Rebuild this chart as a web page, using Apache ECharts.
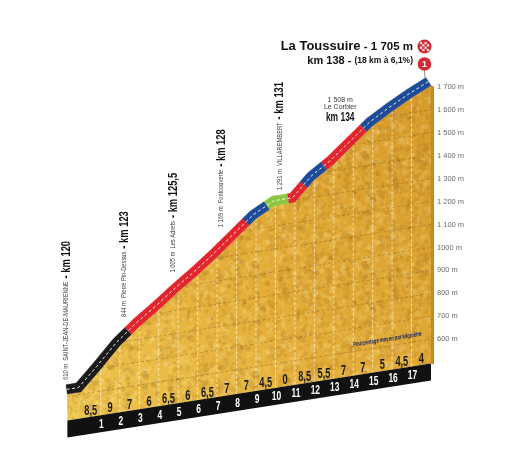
<!DOCTYPE html>
<html>
<head>
<meta charset="utf-8">
<script src="https://cdn.jsdelivr.net/npm/echarts@6/dist/echarts.min.js"></script>
<style>
html,body{margin:0;padding:0;background:#ffffff;}
#chart{width:517px;height:450px;}
</style>
</head>
<body>
<div id="chart"></div>
<script>
// ---------- data read from the profile ----------
const profileKm   = [-0.7, 0, 1, 2, 3, 4, 5, 6, 7, 8, 9, 10, 11, 12, 13, 14, 15, 16, 17, 18];
const profileElev = [610, 610, 695, 785, 855, 915, 980, 1040, 1105, 1175, 1245, 1290, 1290, 1375, 1430, 1500, 1570, 1620, 1665, 1705];
const gradients   = [8.5, 9, 7, 6, 6.5, 6, 6.5, 7, 7, 4.5, 0, 8.5, 5.5, 7, 7, 5, 4.5, 4];
const kmMarks     = [1, 2, 3, 4, 5, 6, 7, 8, 9, 10, 11, 12, 13, 14, 15, 16, 17];
const roadStops   = [-0.7, 2.6, 8.65, 9.7, 10.7, 11.65, 12.65, 14.7, 18];
const roadColors  = ['#1b1b1b', '#e2262d', '#1f4c96', '#8cc641', '#e2262d', '#1f4c96', '#e2262d', '#1f4c96'];
const landmarkKm    = [0, 3, 5.5, 8, 11];
const landmarkElev  = [610, 844, 1005, 1169, 1291];
const landmarkName  = ['SAINT-JEAN-DE-MAURIENNE', 'Pierre Pin-Dessus', 'Les Adrets', 'Fontcouverte', 'VILLAREMBERT'];
const landmarkStage = ['km 120', 'km 123', 'km 125,5', 'km 128', 'km 131'];
const passKm = 14, passElev = 1508, passName = 'Le Corbier', passStage = 'km 134';
const finishKm = 18, finishElev = 1705, finishName = 'La Toussuire', finishStage = 'km 138', climbInfo = '(18 km à 6,1%)';
const legendNote = 'Pourcentage moyen par kilomètre';
const yMin = 600, yMax = 1700, yStep = 100;

// ---------- drawing parameters ----------
const SHEAR = 0.157, BASE_ELEV = 495, BAND_H = 17, ROAD_W = 9.5;
const FONT = '"Liberation Sans", Arial, sans-serif';

const mctx = document.createElement('canvas').getContext('2d');
function textWidth(str, font) { mctx.font = font; return mctx.measureText(str).width; }
function fmtElev(v) { return v >= 1000 ? Math.floor(v / 1000) + ' ' + String(v % 1000).padStart(3, '0') + ' m' : v + ' m'; }
function fmtPct(v) { return String(v).replace('.', ','); }
function elevAt(k) {
  for (let i = 0; i < profileKm.length - 1; i++) {
    const k0 = profileKm[i], k1 = profileKm[i + 1];
    if (k >= k0 && k <= k1) { const t = (k - k0) / (k1 - k0); return profileElev[i] + t * (profileElev[i + 1] - profileElev[i]); }
  }
  return profileElev[profileElev.length - 1];
}
function kmAt(e) {
  for (let i = 0; i < profileKm.length - 1; i++) {
    const e0 = profileElev[i], e1 = profileElev[i + 1];
    if (e >= e0 && e <= e1 && e1 > e0) return profileKm[i] + (e - e0) / (e1 - e0) * (profileKm[i + 1] - profileKm[i]);
  }
  return profileKm[0];
}

// decorative relief texture (deterministic, tiles seamlessly)
function makeTexture() {
  const S = 110, c = document.createElement('canvas'); c.width = S; c.height = S;
  const g = c.getContext('2d');
  const h = n => { const v = Math.sin(n * 127.1 + 311.7) * 43758.5453; return v - Math.floor(v); };
  for (let i = 0; i < 700; i++) {
    const x = h(i) * S, y = h(i + 1700) * S, r = 0.5 + h(i + 3900) * 2.2;
    const dark = h(i + 5300) < 0.5;
    g.fillStyle = dark ? 'rgba(135,80,15,0.12)' : 'rgba(255,240,170,0.13)';
    const rot = h(i + 7100) * Math.PI;
    for (const ox of [-S, 0, S]) for (const oy of [-S, 0, S]) {
      g.beginPath(); g.ellipse(x + ox, y + oy, r * 1.6, r, rot, 0, Math.PI * 2); g.fill();
    }
  }
  return c;
}
const texture = makeTexture();

function renderItem(params, api) {
  const kS = profileKm[0], kE = profileKm[profileKm.length - 1];
  const P = (k, e) => { const p = api.coord([k, e]); const xr = api.coord([kE, e])[0]; return [p[0], p[1] + SHEAR * (xr - p[0])]; };
  const ch = [];
  const top = profileKm.map((k, i) => P(k, profileElev[i]));
  const bS = P(kS, BASE_ELEV), bE = P(kE, BASE_ELEV);
  const tE = top[top.length - 1];
  const facePts = top.concat([bE, bS]);

  // unit normals (pointing up-left) of each profile segment, and mitred vertex normals
  const segN = [];
  for (let i = 0; i < top.length - 1; i++) {
    const dx = top[i + 1][0] - top[i][0], dy = top[i + 1][1] - top[i][1], L = Math.hypot(dx, dy);
    segN.push([dy / L, -dx / L]);
  }
  const vertN = top.map((p, i) => {
    if (i === 0) return segN[0];
    if (i === top.length - 1) return segN[segN.length - 1];
    const a = segN[i - 1], b = segN[i];
    let nx = a[0] + b[0], ny = a[1] + b[1]; const L = Math.hypot(nx, ny); nx /= L; ny /= L;
    const d = nx * a[0] + ny * a[1];
    return [nx / d, ny / d];
  });
  const segIndex = k => { for (let i = 0; i < profileKm.length - 1; i++) if (k <= profileKm[i + 1]) return i; return profileKm.length - 2; };
  const offsetPt = (p, n, w) => [p[0] + n[0] * w, p[1] + n[1] * w];

  // front face
  ch.push({ type: 'polygon', shape: { points: facePts },
    style: { fill: new echarts.graphic.LinearGradient(0, 1, 1, 0, [
      { offset: 0, color: '#efc650' }, { offset: 0.45, color: '#e4ae39' }, { offset: 1, color: '#d69a2b' }]) } });
  ch.push({ type: 'polygon', shape: { points: facePts }, style: { fill: { image: texture, repeat: 'repeat' } } });
  // right side face
  ch.push({ type: 'polygon', shape: { points: [tE, [tE[0] + 3, tE[1] + 1], [bE[0] + 3, bE[1] + 1], bE] }, style: { fill: '#c4891f' } });
  // elevation dashed lines
  for (let e = yMin; e < yMax; e += yStep) {
    const a = P(kmAt(e), e), b = P(kE, e);
    ch.push({ type: 'line', shape: { x1: a[0], y1: a[1], x2: b[0], y2: b[1] }, style: { stroke: 'rgba(120,80,20,0.5)', lineWidth: 0.7, lineDash: [3, 2] } });
  }
  // km dashed lines
  kmMarks.forEach(k => {
    const a = P(k, BASE_ELEV), b = P(k, elevAt(k));
    ch.push({ type: 'line', shape: { x1: a[0], y1: a[1], x2: b[0], y2: b[1] }, style: { stroke: 'rgba(255,246,220,0.85)', lineWidth: 0.8, lineDash: [3, 2] } });
  });
  // black base band
  ch.push({ type: 'polygon', shape: { points: [bS, bE, [bE[0], bE[1] + BAND_H], [bS[0], bS[1] + BAND_H]] }, style: { fill: '#111111' } });
  // road (band on top of the profile, coloured by stretch)
  for (let j = 0; j < roadColors.length; j++) {
    const c0 = roadStops[j], c1 = roadStops[j + 1];
    const lower = [], upper = [];
    const add = (p, n) => { lower.push(p); upper.push(offsetPt(p, n, ROAD_W)); };
    add(P(c0, elevAt(c0)), c0 === kS ? vertN[0] : segN[segIndex(c0)]);
    profileKm.forEach((k, i) => { if (k > c0 && k < c1) add(top[i], vertN[i]); });
    add(P(c1, elevAt(c1)), c1 === kE ? vertN[vertN.length - 1] : segN[segIndex(c1)]);
    ch.push({ type: 'polygon', shape: { points: lower.concat(upper.reverse()) }, style: { fill: roadColors[j], stroke: roadColors[j], lineWidth: 0.4 } });
  }
  ch.push({ type: 'polyline', shape: { points: top.map((p, i) => offsetPt(p, vertN[i], ROAD_W / 2)) }, style: { stroke: '#ffffff', lineWidth: 0.9, lineDash: [3, 2.5], fill: null } });

  // gradient labels
  gradients.forEach((g, i) => {
    const p = P(i + 0.5, BASE_ELEV);
    ch.push({ type: 'text', x: p[0], y: p[1] - 6, scaleX: 0.64,
      style: { text: fmtPct(g), fill: '#1a1a1a', fontSize: 14.5, fontWeight: 'bold', fontFamily: FONT, align: 'center', verticalAlign: 'middle' } });
  });
  // km labels
  kmMarks.forEach(k => {
    const p = P(k, BASE_ELEV);
    ch.push({ type: 'text', x: p[0] + 1, y: p[1] + 9, scaleX: 0.65,
      style: { text: String(k), fill: '#ffffff', fontSize: 13, fontWeight: 'bold', fontFamily: FONT, align: 'center', verticalAlign: 'middle' } });
  });
  // landmarks (vertical)
  landmarkKm.forEach((k, i) => {
    const p = P(k, landmarkElev[i]);
    const x = p[0] - 15, y = p[1] - 12;
    const t1 = fmtElev(landmarkElev[i]) + '  ' + landmarkName[i];
    const w1 = textWidth(t1, '7px ' + FONT) * 0.82;
    ch.push({ type: 'text', x: x, y: y, rotation: Math.PI / 2, scaleX: 0.82,
      style: { text: t1, fill: '#3a3a3a', fontSize: 7, fontFamily: FONT, align: 'left', verticalAlign: 'middle' } });
    ch.push({ type: 'text', x: x, y: y - w1 - 3, rotation: Math.PI / 2, scaleX: 0.72,
      style: { text: '- ' + landmarkStage[i], fill: '#111111', fontSize: 13, fontWeight: 'bold', fontFamily: FONT, align: 'left', verticalAlign: 'middle' } });
  });
  // Le Corbier (horizontal)
  {
    const p = P(passKm, passElev);
    ch.push({ type: 'text', x: p[0] - 13, y: p[1] - 32, style: { text: fmtElev(passElev) + '\n' + passName, fill: '#3a3a3a', fontSize: 7, lineHeight: 7.5, fontFamily: FONT, align: 'center', verticalAlign: 'bottom' } });
    ch.push({ type: 'text', x: p[0] - 13, y: p[1] - 26, scaleX: 0.65, style: { text: passStage, fill: '#111111', fontSize: 13, fontWeight: 'bold', fontFamily: FONT, align: 'center', verticalAlign: 'middle' } });
  }
  // finish: pin, flag, title
  {
    const f = P(finishKm, finishElev);
    const cx = f[0] - 6.5;
    ch.push({ type: 'line', shape: { x1: cx, y1: f[1] - 15, x2: cx + 0.5, y2: f[1] - 8 }, style: { stroke: '#8a8a8a', lineWidth: 1 } });
    ch.push({ type: 'circle', shape: { cx: cx, cy: f[1] - 21.6, r: 6.8 }, style: { fill: '#d42a33' } });
    ch.push({ type: 'text', x: cx, y: f[1] - 21.3, style: { text: '1', fill: '#ffffff', fontSize: 9, fontWeight: 'bold', fontFamily: FONT, align: 'center', verticalAlign: 'middle' } });
    const fy = f[1] - 39;
    ch.push({ type: 'circle', shape: { cx: cx, cy: fy, r: 7 }, style: { fill: '#d42a33' } });
    const s = 2.3;
    for (let r = 0; r < 4; r++) for (let c = 0; c < 4; c++) {
      if ((r + c) % 2 === 0) ch.push({ type: 'rect', shape: { x: cx - 2 * s + c * s, y: fy - 2 * s + r * s, width: s, height: s }, style: { fill: '#f2d7d9' } });
    }
    ch.push({ type: 'text', x: f[0] - 18, y: fy, style: {
      text: '{a|' + finishName + '}{b| - ' + fmtElev(finishElev) + '}', align: 'right', verticalAlign: 'middle',
      rich: { a: { fontSize: 13, fontWeight: 'bold', fontFamily: FONT, fill: '#111111' }, b: { fontSize: 11.5, fontWeight: 'bold', fontFamily: FONT, fill: '#111111' } } } });
    ch.push({ type: 'text', x: f[0] - 18, y: f[1] - 24.6, style: {
      text: '{a|' + finishStage + ' - }{b|' + climbInfo + '}', align: 'right', verticalAlign: 'middle',
      rich: { a: { fontSize: 11, fontWeight: 'bold', fontFamily: FONT, fill: '#111111' }, b: { fontSize: 8.5, fontWeight: 'bold', fontFamily: FONT, fill: '#111111' } } } });
  }
  // legend note
  {
    const p = P(15.75, BASE_ELEV);
    ch.push({ type: 'text', x: p[0], y: p[1] - 31, rotation: Math.atan(SHEAR), scaleX: 0.66,
      style: { text: legendNote, fill: '#1b2a66', fontSize: 6.5, fontWeight: 'bold', fontStyle: 'italic', fontFamily: FONT, align: 'center', verticalAlign: 'middle' } });
  }
  return { type: 'group', children: ch };
}

const chart = echarts.init(document.getElementById('chart'), null, { renderer: 'canvas' });
chart.setOption({
  animation: false,
  backgroundColor: '#ffffff',
  grid: { left: 81, right: 86, top: 86.7, bottom: 110.7 },
  xAxis: { type: 'value', min: 0, max: 18, show: false },
  yAxis: {
    type: 'value', min: yMin, max: yMax, interval: yStep, position: 'right',
    axisLine: { show: false }, axisTick: { show: false }, splitLine: { show: false },
    axisLabel: { margin: 6, color: '#6b6b6b', fontSize: 7.5, fontFamily: FONT, formatter: v => v > 1000 ? fmtElev(v) : v + ' m' }
  },
  series: [{ type: 'custom', coordinateSystem: 'cartesian2d', renderItem: renderItem, data: [0], silent: true, clip: false }]
});
</script>
</body>
</html>
